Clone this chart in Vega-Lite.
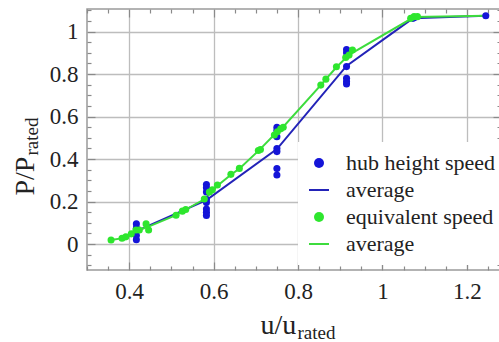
{
  "$schema": "https://vega.github.io/schema/vega-lite/v6.json",
  "width": 414,
  "height": 261,
  "autosize": {"type": "none"},
  "padding": {"left": 87, "top": 9, "right": 0, "bottom": 72},
  "background": "white",
  "config": {
    "view": {"stroke": "#9a9a9a", "strokeWidth": 1.5},
    "font": "Liberation Serif",
    "legend": {"labelFont": "Liberation Serif"},
    "axis": {"domain": false, "labelFont": "Liberation Serif", "titleFont": "Liberation Serif", "labelColor": "#222", "titleColor": "#222", "titleFontWeight": "normal", "tickColor": "#8a8a8a", "tickWidth": 1.2, "gridColor": "#bdbdbd", "gridWidth": 1.3}
  },
  "data": {"values": [
    {"s": "a_hub", "u": 0.417, "p": 0.095},
    {"s": "a_hub", "u": 0.417, "p": 0.075},
    {"s": "a_hub", "u": 0.417, "p": 0.06},
    {"s": "a_hub", "u": 0.417, "p": 0.04},
    {"s": "a_hub", "u": 0.417, "p": 0.02},
    {"s": "a_hub", "u": 0.583, "p": 0.28},
    {"s": "a_hub", "u": 0.583, "p": 0.265},
    {"s": "a_hub", "u": 0.583, "p": 0.245},
    {"s": "a_hub", "u": 0.583, "p": 0.21},
    {"s": "a_hub", "u": 0.583, "p": 0.195},
    {"s": "a_hub", "u": 0.583, "p": 0.165},
    {"s": "a_hub", "u": 0.583, "p": 0.15},
    {"s": "a_hub", "u": 0.583, "p": 0.135},
    {"s": "a_hub", "u": 0.75, "p": 0.55},
    {"s": "a_hub", "u": 0.75, "p": 0.535},
    {"s": "a_hub", "u": 0.75, "p": 0.505},
    {"s": "a_hub", "u": 0.75, "p": 0.45},
    {"s": "a_hub", "u": 0.75, "p": 0.435},
    {"s": "a_hub", "u": 0.75, "p": 0.355},
    {"s": "a_hub", "u": 0.75, "p": 0.325},
    {"s": "a_hub", "u": 0.915, "p": 0.915},
    {"s": "a_hub", "u": 0.915, "p": 0.9},
    {"s": "a_hub", "u": 0.915, "p": 0.835},
    {"s": "a_hub", "u": 0.915, "p": 0.78},
    {"s": "a_hub", "u": 0.915, "p": 0.765},
    {"s": "a_hub", "u": 0.915, "p": 0.753},
    {"s": "a_hub", "u": 1.072, "p": 1.062},
    {"s": "a_hub", "u": 1.075, "p": 1.065},
    {"s": "a_hub", "u": 1.245, "p": 1.074},
    {"s": "b_hub_avg", "u": 0.417, "p": 0.061},
    {"s": "b_hub_avg", "u": 0.583, "p": 0.207},
    {"s": "b_hub_avg", "u": 0.75, "p": 0.447},
    {"s": "b_hub_avg", "u": 0.915, "p": 0.838},
    {"s": "b_hub_avg", "u": 1.072, "p": 1.062},
    {"s": "b_hub_avg", "u": 1.245, "p": 1.074},
    {"s": "c_equiv", "u": 0.357, "p": 0.019},
    {"s": "c_equiv", "u": 0.383, "p": 0.027},
    {"s": "c_equiv", "u": 0.392, "p": 0.034},
    {"s": "c_equiv", "u": 0.405, "p": 0.048},
    {"s": "c_equiv", "u": 0.416, "p": 0.066},
    {"s": "c_equiv", "u": 0.424, "p": 0.066},
    {"s": "c_equiv", "u": 0.44, "p": 0.095},
    {"s": "c_equiv", "u": 0.446, "p": 0.066},
    {"s": "c_equiv", "u": 0.511, "p": 0.136},
    {"s": "c_equiv", "u": 0.526, "p": 0.155},
    {"s": "c_equiv", "u": 0.534, "p": 0.163},
    {"s": "c_equiv", "u": 0.578, "p": 0.212},
    {"s": "c_equiv", "u": 0.59, "p": 0.245},
    {"s": "c_equiv", "u": 0.597, "p": 0.255},
    {"s": "c_equiv", "u": 0.609, "p": 0.278},
    {"s": "c_equiv", "u": 0.641, "p": 0.328},
    {"s": "c_equiv", "u": 0.661, "p": 0.356},
    {"s": "c_equiv", "u": 0.706, "p": 0.44},
    {"s": "c_equiv", "u": 0.711, "p": 0.445},
    {"s": "c_equiv", "u": 0.744, "p": 0.513},
    {"s": "c_equiv", "u": 0.751, "p": 0.528},
    {"s": "c_equiv", "u": 0.759, "p": 0.542},
    {"s": "c_equiv", "u": 0.765, "p": 0.55},
    {"s": "c_equiv", "u": 0.854, "p": 0.748},
    {"s": "c_equiv", "u": 0.866, "p": 0.776},
    {"s": "c_equiv", "u": 0.891, "p": 0.834},
    {"s": "c_equiv", "u": 0.913, "p": 0.878},
    {"s": "c_equiv", "u": 0.921, "p": 0.889},
    {"s": "c_equiv", "u": 0.929, "p": 0.913},
    {"s": "c_equiv", "u": 1.067, "p": 1.062},
    {"s": "c_equiv", "u": 1.075, "p": 1.07},
    {"s": "c_equiv", "u": 1.083, "p": 1.07},
    {"s": "d_equiv_avg", "u": 0.357, "p": 0.019},
    {"s": "d_equiv_avg", "u": 0.385, "p": 0.028},
    {"s": "d_equiv_avg", "u": 0.405, "p": 0.047},
    {"s": "d_equiv_avg", "u": 0.42, "p": 0.064},
    {"s": "d_equiv_avg", "u": 0.443, "p": 0.08},
    {"s": "d_equiv_avg", "u": 0.511, "p": 0.136},
    {"s": "d_equiv_avg", "u": 0.53, "p": 0.158},
    {"s": "d_equiv_avg", "u": 0.58, "p": 0.213},
    {"s": "d_equiv_avg", "u": 0.6, "p": 0.255},
    {"s": "d_equiv_avg", "u": 0.609, "p": 0.275},
    {"s": "d_equiv_avg", "u": 0.641, "p": 0.326},
    {"s": "d_equiv_avg", "u": 0.661, "p": 0.355},
    {"s": "d_equiv_avg", "u": 0.708, "p": 0.442},
    {"s": "d_equiv_avg", "u": 0.75, "p": 0.527},
    {"s": "d_equiv_avg", "u": 0.762, "p": 0.545},
    {"s": "d_equiv_avg", "u": 0.854, "p": 0.748},
    {"s": "d_equiv_avg", "u": 0.866, "p": 0.776},
    {"s": "d_equiv_avg", "u": 0.891, "p": 0.832},
    {"s": "d_equiv_avg", "u": 0.917, "p": 0.883},
    {"s": "d_equiv_avg", "u": 0.929, "p": 0.9},
    {"s": "d_equiv_avg", "u": 1.075, "p": 1.068},
    {"s": "d_equiv_avg", "u": 1.245, "p": 1.074}
  ]},
  "layer": [
    {
      "encoding": {
        "x": {
          "field": "u", "type": "quantitative",
          "scale": {"domain": [0.3, 1.281], "nice": false, "zero": false},
          "axis": {
            "orient": "bottom",
            "values": [0.3, 0.35, 0.4, 0.45, 0.5, 0.55, 0.6, 0.65, 0.7, 0.75, 0.8, 0.85, 0.9, 0.95, 1.0, 1.05, 1.1, 1.15, 1.2, 1.25],
            "labelExpr": "abs(datum.value*5 - round(datum.value*5)) < 0.01 ? toString(round(datum.value*10)/10) : ''",
            "labelFont": "Liberation Serif",
            "labelFontSize": 23,
            "labelPadding": 18,
            "labelFlush": false,
            "labelOverlap": false,
            "tickSize": {"condition": {"test": "abs(datum.value*5 - round(datum.value*5)) < 0.01", "value": -8}, "value": -4},
            "grid": true,
            "gridOpacity": {"condition": {"test": "abs(datum.value*5 - round(datum.value*5)) < 0.01", "value": 1}, "value": 0},
            "title": "u/u",
            "titleFont": "Liberation Serif",
            "titleFontSize": 28,
            "titleAlign": "left",
            "titleBaseline": "alphabetic",
            "titleAngle": 0,
            "titleX": 173,
            "titleY": 63
          }
        },
        "y": {
          "field": "p", "type": "quantitative",
          "scale": {"domain": [-0.122, 1.106], "nice": false, "zero": false},
          "axis": {
            "orient": "left",
            "values": [-0.1, -0.05, 0, 0.05, 0.1, 0.15, 0.2, 0.25, 0.3, 0.35, 0.4, 0.45, 0.5, 0.55, 0.6, 0.65, 0.7, 0.75, 0.8, 0.85, 0.9, 0.95, 1.0, 1.05, 1.1],
            "labelExpr": "abs(datum.value*5 - round(datum.value*5)) < 0.01 && datum.value > -0.01 ? toString(round(datum.value*10)/10) : ''",
            "labelFont": "Liberation Serif",
            "labelFontSize": 23,
            "labelPadding": 17,
            "labelFlush": false,
            "labelOverlap": false,
            "tickSize": {"condition": {"test": "abs(datum.value*5 - round(datum.value*5)) < 0.01", "value": -8}, "value": -4},
            "grid": true,
            "gridOpacity": {"condition": {"test": "abs(datum.value*5 - round(datum.value*5)) < 0.01", "value": 1}, "value": 0},
            "title": "P/P",
            "titleFont": "Liberation Serif",
            "titleFontSize": 28,
            "titleAlign": "left",
            "titleBaseline": "alphabetic",
            "titleAngle": -90,
            "titleX": -54,
            "titleY": 186
          }
        }
      },
      "layer": [
        {
          "transform": [{"filter": "datum.s == 'b_hub_avg' || datum.s == 'd_equiv_avg'"}],
          "mark": {"type": "line", "strokeWidth": 2},
          "encoding": {
            "color": {
              "field": "s", "type": "nominal",
              "scale": {"domain": ["a_hub", "b_hub_avg", "c_equiv", "d_equiv_avg"], "range": ["#1414d8", "#2323b8", "#2ee62e", "#3ddc3d"]},
              "legend": {
                "title": null,
                "orient": "none",
                "legendX": 211,
                "legendY": 133,
                "padding": 10,
                "fillColor": "white",
                "labelFont": "Liberation Serif",
                "labelFontSize": 22,
                "labelColor": "#222",
                "labelOffset": 16,
                "rowPadding": 5,
                "symbolSize": 400,
                "labelExpr": "datum.value == 'a_hub' ? 'hub height speed' : datum.value == 'c_equiv' ? 'equivalent speed' : 'average'",
                "encode": {
                  "labels": {"update": {"font": {"value": "Liberation Serif"}}},
                  "symbols": {
                    "update": {
                      "shape": {"signal": "(datum.value == 'a_hub' || datum.value == 'c_equiv') ? 'circle' : 'stroke'"},
                      "size": {"signal": "(datum.value == 'a_hub' || datum.value == 'c_equiv') ? 100 : 400"},
                      "fill": {"signal": "(datum.value == 'a_hub' || datum.value == 'c_equiv') ? scale('color', datum.value) : 'transparent'"},
                      "stroke": {"signal": "scale('color', datum.value)"},
                      "strokeWidth": {"signal": "(datum.value == 'a_hub' || datum.value == 'c_equiv') ? 0 : 2"},
                      "opacity": {"value": 1}
                    }
                  }
                }
              }
            }
          }
        },
        {
          "transform": [{"filter": "datum.s == 'a_hub'"}],
          "mark": {"type": "point", "filled": true, "size": 50, "opacity": 1},
          "encoding": {"color": {"field": "s", "type": "nominal"}}
        }
      ]
    },
    {
      "transform": [{"filter": "datum.s == 'c_equiv'"}],
      "mark": {"type": "point", "filled": true, "size": 50, "opacity": 1},
      "encoding": {
        "x": {
          "field": "u", "type": "quantitative",
          "axis": {
            "orient": "top",
            "values": [0.3, 0.35, 0.4, 0.45, 0.5, 0.55, 0.6, 0.65, 0.7, 0.75, 0.8, 0.85, 0.9, 0.95, 1.0, 1.05, 1.1, 1.15, 1.2, 1.25],
            "labels": false,
            "grid": false,
            "tickSize": {"condition": {"test": "abs(datum.value*5 - round(datum.value*5)) < 0.01", "value": -8}, "value": -4},
            "title": "rated",
            "titleFont": "Liberation Serif",
            "titleFontSize": 19,
            "titleAlign": "left",
            "titleBaseline": "alphabetic",
            "titleAngle": 0,
            "titleX": 210,
            "titleY": 329
          }
        },
        "y": {
          "field": "p", "type": "quantitative",
          "axis": {
            "orient": "right",
            "values": [-0.1, -0.05, 0, 0.05, 0.1, 0.15, 0.2, 0.25, 0.3, 0.35, 0.4, 0.45, 0.5, 0.55, 0.6, 0.65, 0.7, 0.75, 0.8, 0.85, 0.9, 0.95, 1.0, 1.05, 1.1],
            "labels": false,
            "grid": false,
            "tickSize": {"condition": {"test": "abs(datum.value*5 - round(datum.value*5)) < 0.01", "value": -8}, "value": -4},
            "title": "rated",
            "titleFont": "Liberation Serif",
            "titleFontSize": 19,
            "titleAlign": "left",
            "titleBaseline": "alphabetic",
            "titleAngle": -90,
            "titleX": -464,
            "titleY": 146
          }
        },
        "color": {"field": "s", "type": "nominal"}
      }
    }
  ],
  "resolve": {"axis": {"x": "independent", "y": "independent"}}
}
